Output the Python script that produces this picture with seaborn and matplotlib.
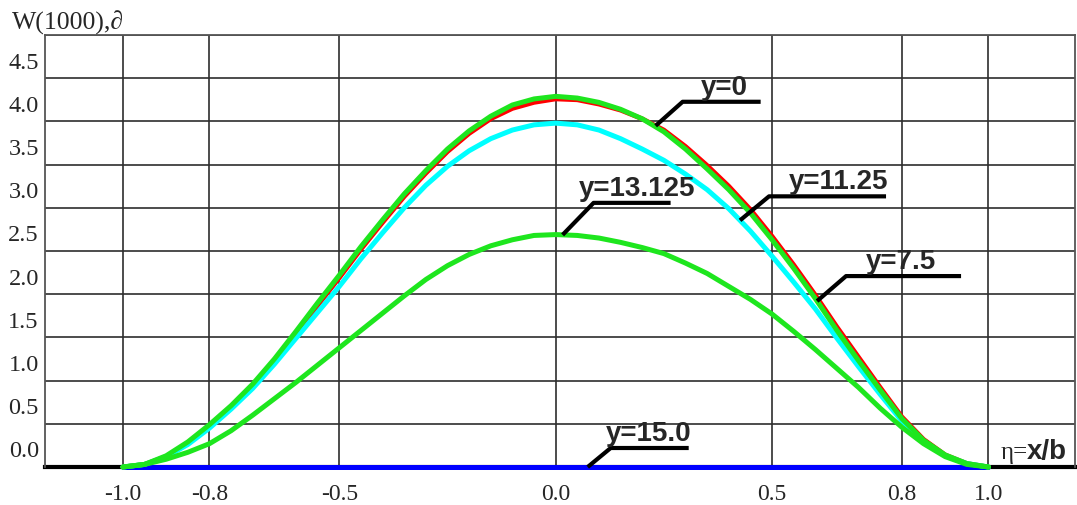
import numpy as np
import pandas as pd
import matplotlib
matplotlib.use("Agg")
import matplotlib.pyplot as plt
import matplotlib.transforms as mtransforms
import seaborn as sns

# ─────────────────────────────────────────
# DATA
# ─────────────────────────────────────────
eta = [-1.0, -0.95, -0.9, -0.85, -0.8, -0.75, -0.7, -0.65, -0.6, -0.55,
       -0.5, -0.45, -0.4, -0.35, -0.3, -0.25, -0.2, -0.15, -0.1, -0.05,
       0.0, 0.05, 0.1, 0.15, 0.2, 0.25, 0.3, 0.35, 0.4, 0.45,
       0.5, 0.55, 0.6, 0.65, 0.7, 0.75, 0.8, 0.85, 0.9, 0.95, 1.0]

w_y0 = [0.00, 0.03, 0.12, 0.27, 0.47, 0.69, 0.93, 1.22, 1.54, 1.87,
        2.19, 2.52, 2.83, 3.13, 3.40, 3.65, 3.86, 4.03, 4.15, 4.22,
        4.26, 4.25, 4.20, 4.13, 4.03, 3.90, 3.71, 3.49, 3.25, 2.98,
        2.67, 2.34, 1.99, 1.62, 1.27, 0.92, 0.58, 0.32, 0.14, 0.04, 0.00]

w_y7_5 = [0.00, 0.03, 0.13, 0.29, 0.49, 0.71, 0.96, 1.25, 1.57, 1.90,
          2.22, 2.55, 2.86, 3.16, 3.43, 3.68, 3.89, 4.06, 4.19, 4.26,
          4.29, 4.27, 4.22, 4.14, 4.03, 3.88, 3.68, 3.45, 3.21, 2.94,
          2.63, 2.30, 1.95, 1.58, 1.23, 0.89, 0.56, 0.31, 0.14, 0.04, 0.00]

w_y11_25 = [0.00, 0.03, 0.12, 0.26, 0.45, 0.67, 0.91, 1.19, 1.49, 1.79,
            2.09, 2.41, 2.71, 3.00, 3.26, 3.48, 3.66, 3.80, 3.90, 3.96,
            3.98, 3.96, 3.90, 3.80, 3.68, 3.55, 3.39, 3.21, 2.99, 2.73,
            2.44, 2.14, 1.83, 1.49, 1.16, 0.84, 0.53, 0.30, 0.13, 0.04, 0.00]

w_y13_125 = [0.00, 0.03, 0.09, 0.17, 0.27, 0.42, 0.60, 0.79, 0.98, 1.18,
             1.38, 1.58, 1.78, 1.98, 2.17, 2.33, 2.46, 2.56, 2.63, 2.68,
             2.69, 2.68, 2.65, 2.60, 2.54, 2.47, 2.36, 2.24, 2.09, 1.94,
             1.77, 1.57, 1.36, 1.14, 0.92, 0.68, 0.46, 0.27, 0.12, 0.03, 0.00]

eta_edge = [-1.0, 1.0]
w_y15 = [0.0, 0.0]

x_ticks = [-1.0, -0.8, -0.5, 0.0, 0.5, 0.8, 1.0]
x_tick_labels = ["-1.0", "-0.8", "-0.5", "0.0", "0.5", "0.8", "1.0"]
y_grid = [0.0, 0.5, 1.0, 1.5, 2.0, 2.5, 3.0, 3.5, 4.0, 4.5, 5.0]
y_tick_labels = ["0.0", "0.5", "1.0", "1.5", "2.0", "2.5", "3.0", "3.5", "4.0", "4.5"]

# ─────────────────────────────────────────
# STYLE
# ─────────────────────────────────────────
sns.set_style("white")
plt.rcParams['font.family'] = ['Liberation Serif', 'DejaVu Serif']

GREEN = '#1ee61e'
GRID = '#2e2e2e'
SERIF = ['Liberation Serif', 'DejaVu Serif']
SANS = ['Liberation Sans', 'DejaVu Sans']

fig = plt.figure(figsize=(10.77, 5.05), dpi=100)
ax = fig.add_axes([45 / 1077, 38 / 505, 1030 / 1077, 432 / 505])

# ─────────────────────────────────────────
# CURVES
# ─────────────────────────────────────────
curves = [
    (eta_edge, w_y15, '#0000ff', 3.6),
    (eta, w_y0, '#ff0000', 3.4),
    (eta, w_y11_25, '#00ffff', 3.6),
    (eta, w_y13_125, GREEN, 3.6),
    (eta, w_y7_5, GREEN, 3.6),
]
for xs, ys, col, lw in curves:
    df = pd.DataFrame({"eta": xs, "W": ys})
    sns.lineplot(data=df, x="eta", y="W", color=col, lw=lw, ax=ax,
                 sort=False, clip_on=False, zorder=3,
                 solid_joinstyle='round', solid_capstyle='round')

ax.set_xlim(-1.18, 1.2)
ax.set_ylim(0, 5)
ax.set_xlabel("")
ax.set_ylabel("")

# grid + spines
ax.set_xticks(x_ticks)
ax.set_xticklabels(x_tick_labels, fontsize=17, family=SERIF)
ax.set_yticks(y_grid)
ax.set_yticklabels([])
ax.tick_params(length=0, axis='x', pad=12)
ax.tick_params(length=0, axis='y')
ax.grid(True, color=GRID, lw=1.2)
ax.set_axisbelow(True)
for side in ['left', 'top', 'right']:
    ax.spines[side].set_color('#555555')
    ax.spines[side].set_linewidth(1.3)
ax.spines['bottom'].set_color('black')
ax.spines['bottom'].set_linewidth(3.0)
ax.spines['bottom'].set_zorder(2)

# y labels sit just above their grid line
trans = mtransforms.blended_transform_factory(ax.transAxes, ax.transData)
for v, lab in zip(y_grid, y_tick_labels):
    ax.text(-0.006, v + 0.11, lab, transform=trans, ha='right',
            va='baseline', fontsize=17.5, family=SERIF)

fig.text(12 / 1077, 1 - 30 / 505, "W(1000),∂", fontsize=18.5, family=SERIF,
         ha='left', va='baseline')

# axis name at the right end of the baseline
ax.text(1.028, 0.09, "η=", fontsize=18, family=SERIF, ha='left',
        va='baseline')
ax.text(1.088, 0.09, "x/b", fontsize=20, family=SANS, fontweight='bold',
        ha='left', va='baseline')

# ─────────────────────────────────────────
# LEADER LABELS
# ─────────────────────────────────────────
fig.canvas.draw()
inv = ax.transData.inverted()

leaders = [
    ("y=0", eta, w_y0, 0.231, 27, 24, 78, 18),
    ("y=11.25", eta, w_y11_25, 0.426, 29, 24, 117, 20),
    ("y=7.5", eta, w_y7_5, 0.604, 29, 25, 115, 20),
    ("y=13.125", eta, w_y13_125, 0.016, 31, 32, 77, -15),
    ("y=15.0", eta_edge, w_y15, 0.074, 23, 19, 78, -5),
]
for text, xs, ys, xa, dx, dy, ulen, tdx in leaders:
    ya = np.interp(xa, xs, ys)
    px, py = ax.transData.transform((xa, ya))
    pts = np.array([[px, py], [px + dx, py + dy], [px + dx + ulen, py + dy]])
    d = inv.transform(pts)
    ax.plot(d[:, 0], d[:, 1], color='black', lw=3.0, clip_on=False,
            zorder=5, solid_capstyle='butt')
    tx, ty = inv.transform((px + dx + tdx, py + dy + 1))
    ax.text(tx, ty, text, fontsize=20, family=SANS, fontweight='bold',
            ha='left', va='bottom', zorder=6)

plt.savefig("out.png", dpi=100)
